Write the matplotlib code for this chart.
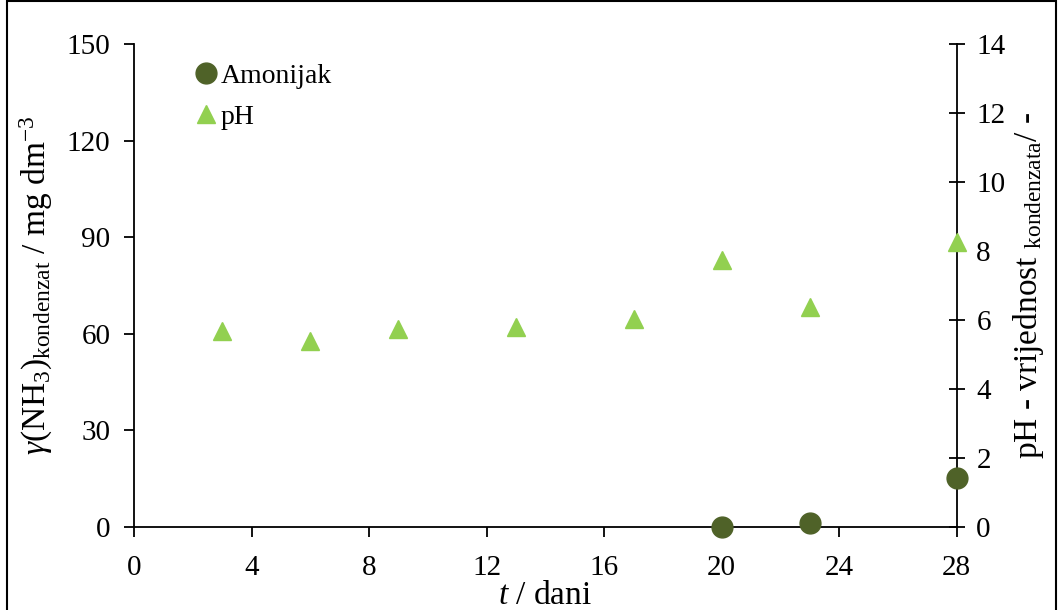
import matplotlib.pyplot as plt
from matplotlib.lines import Line2D
from matplotlib.patches import Rectangle

plt.rcParams["font.family"] = ["Liberation Serif", "DejaVu Serif"]
plt.rcParams["mathtext.fontset"] = "custom"
plt.rcParams["mathtext.rm"] = "Liberation Serif"
plt.rcParams["mathtext.it"] = "Liberation Serif:italic"

# data
days_nh3 = [20, 23, 28]
ammonia = [0.0, 1.1, 15.1]

days_ph = [3, 6, 9, 13, 17, 20, 23, 28]
ph = [5.68, 5.40, 5.74, 5.80, 6.03, 7.74, 6.38, 8.25]

x_ticks = [0, 4, 8, 12, 16, 20, 24, 28]
left_ticks = [0, 30, 60, 90, 120, 150]
right_ticks = [0, 2, 4, 6, 8, 10, 12, 14]

c_nh3 = "#4F6228"
c_ph = "#92D050"

fig = plt.figure(figsize=(10.59, 6.10), dpi=100)
ax = fig.add_axes([0.1265, 0.136, 0.777, 0.792])
ax2 = ax.twinx()
ax.set_zorder(ax2.get_zorder() + 1)
ax.patch.set_visible(False)

# pH on right axis
ax2.plot(days_ph, ph, linestyle="none", marker="^", markersize=12.5,
         color=c_ph, clip_on=False, zorder=3)
# ammonia on left axis
ax.plot(days_nh3, ammonia, linestyle="none", marker="o", markersize=15,
        color=c_nh3, clip_on=False, zorder=3)

ax.set_xlim(0, 28)
ax.set_ylim(0, 150)
ax2.set_ylim(0, 14)
ax.set_xticks(x_ticks)
ax.set_yticks(left_ticks)
ax2.set_yticks(right_ticks)

for a in (ax, ax2):
    a.spines["top"].set_visible(False)
ax.spines["right"].set_visible(False)
ax2.spines["left"].set_visible(False)
ax2.spines["bottom"].set_visible(False)
for s in ("left", "bottom"):
    ax.spines[s].set_linewidth(1.3)
ax2.spines["right"].set_linewidth(1.3)

ax.tick_params(axis="x", direction="out", length=7, width=1.3, labelsize=21, pad=13)
ax.tick_params(axis="y", direction="out", length=7, width=1.3, labelsize=21, pad=10)
ax2.tick_params(axis="y", direction="inout", length=12, width=1.3, labelsize=21, pad=8)

ax.set_xlabel("$t$ / dani", fontsize=24, labelpad=0)
ax.set_ylabel(r"$\gamma$(NH$_3$)$_{\rm kondenzat}$ / mg dm$^{-3}$", fontsize=24, labelpad=8)
ax2.set_ylabel(r"pH - vrijednost $_{\rm kondenzata}$/ -", fontsize=24, labelpad=4)

handles = [
    Line2D([], [], linestyle="none", marker="o", markersize=15, color=c_nh3),
    Line2D([], [], linestyle="none", marker="^", markersize=12.5, color=c_ph),
]
ax.legend(handles, ["Amonijak", "pH"], loc="upper left",
          bbox_to_anchor=(0.061, 0.982), frameon=False, fontsize=20,
          handlelength=0.8, handletextpad=0.1, labelspacing=0.55, borderaxespad=0)

# outer frame around the figure
fig.patches.append(Rectangle((7 / 1059, -0.01), 1049 / 1059, 1.008,
                             transform=fig.transFigure, fill=False,
                             edgecolor="black", linewidth=1.5))

fig.savefig("out.png", dpi=100)
